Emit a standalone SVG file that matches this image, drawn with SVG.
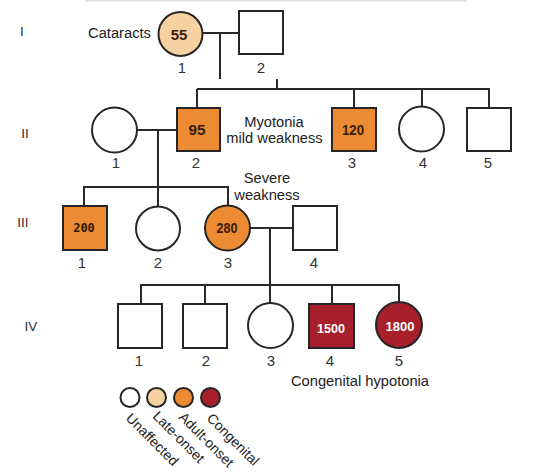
<svg xmlns="http://www.w3.org/2000/svg" width="544" height="475" viewBox="0 0 544 475">
<style>
.shape{stroke:#262626;stroke-width:2}
.un{fill:#ffffff}
.late{fill:#f6d2a2}
.adult{fill:#ec8b33}
.cong{fill:#a61f2b}
.lbl{font-family:"Liberation Sans",Arial,sans-serif;font-size:14.7px;fill:#222;text-anchor:middle}
.num{font-family:"Liberation Sans",Arial,sans-serif;font-size:15px;fill:#333;text-anchor:middle}
.gen{font-family:"Liberation Sans",Arial,sans-serif;font-size:13.5px;fill:#333;text-anchor:middle}
.val{font-family:"Liberation Sans",Arial,sans-serif;font-size:15px;font-weight:bold;fill:#3a1d08;text-anchor:middle}
.valw{font-family:"Liberation Sans",Arial,sans-serif;font-size:13.5px;font-weight:bold;fill:#ffffff;text-anchor:middle}
.leg{font-family:"Liberation Sans",Arial,sans-serif;font-size:14px;fill:#222}
#connectors line{stroke:#2a2a2a;stroke-width:2}
</style>
<rect width="544" height="475" fill="#ffffff"/>
<line x1="85" y1="0.8" x2="467" y2="0.8" stroke="#e2e2e2" stroke-width="1.5"/>

<g id="generation-labels">
<text class="gen" x="22" y="36">I</text>
<text class="gen" x="25" y="138">II</text>
<text class="gen" x="23" y="227">III</text>
<text class="gen" x="31" y="331">IV</text>
</g>

<g id="connectors">
<line x1="201" y1="33" x2="239" y2="33"/>
<line x1="220" y1="33" x2="220" y2="79"/>
<line x1="277" y1="79" x2="277" y2="89"/>
<line x1="197" y1="89" x2="490" y2="89"/>
<line x1="197" y1="89" x2="197" y2="108"/>
<line x1="354" y1="89" x2="354" y2="108"/>
<line x1="422" y1="89" x2="422" y2="107"/>
<line x1="489" y1="89" x2="489" y2="108"/>
<line x1="137" y1="130" x2="177" y2="130"/>
<line x1="158" y1="130" x2="158" y2="206"/>
<line x1="83" y1="187" x2="229" y2="187"/>
<line x1="84" y1="187" x2="84" y2="206"/>
<line x1="228" y1="187" x2="228" y2="206"/>
<line x1="250" y1="228" x2="293" y2="228"/>
<line x1="270" y1="228" x2="270" y2="303"/>
<line x1="140" y1="285" x2="400" y2="285"/>
<line x1="141" y1="285" x2="141" y2="304"/>
<line x1="205" y1="285" x2="205" y2="304"/>
<line x1="332" y1="285" x2="332" y2="304"/>
<line x1="399" y1="285" x2="399" y2="303"/>
</g>

<g id="I-1">
<circle class="shape late" cx="180.5" cy="34" r="22"/>
<text class="val" x="179" y="40">55</text>
<text class="num" x="182" y="73">1</text>
<text class="lbl" x="119.5" y="38">Cataracts</text>
</g>
<g id="I-2">
<rect class="shape un" x="239" y="11" width="44" height="43"/>
<text class="num" x="261" y="73">2</text>
</g>

<g id="II-1">
<circle class="shape un" cx="114.5" cy="130" r="22.5"/>
<text class="num" x="116" y="168">1</text>
</g>
<g id="II-2">
<rect class="shape adult" x="177" y="108" width="43" height="43"/>
<text class="val" x="197" y="135" textLength="17" lengthAdjust="spacingAndGlyphs">95</text>
<text class="num" x="196" y="168">2</text>
</g>
<g id="II-label">
<text class="lbl" x="274" y="127">Myotonia</text>
<text class="lbl" x="274.5" y="143">mild weakness</text>
</g>
<g id="II-3">
<rect class="shape adult" x="332" y="108" width="44" height="43"/>
<text class="val" x="353" y="135" textLength="22" lengthAdjust="spacingAndGlyphs">120</text>
<text class="num" x="352" y="168">3</text>
</g>
<g id="II-4">
<circle class="shape un" cx="421.5" cy="129" r="22.5"/>
<text class="num" x="423" y="168">4</text>
</g>
<g id="II-5">
<rect class="shape un" x="467" y="108" width="44" height="43"/>
<text class="num" x="488" y="168">5</text>
</g>

<g id="III-1">
<rect class="shape adult" x="63" y="206" width="44" height="44"/>
<text x="84" y="232" font-family="'DejaVu Sans Mono',monospace" font-size="12" font-weight="bold" fill="#2e1600" text-anchor="middle">200</text>
<text class="num" x="82" y="268">1</text>
</g>
<g id="III-2">
<circle class="shape un" cx="158" cy="228.5" r="22"/>
<text class="num" x="158" y="268">2</text>
</g>
<g id="III-3">
<circle class="shape adult" cx="227.5" cy="228" r="22.5"/>
<text class="val" x="227" y="233" textLength="21" lengthAdjust="spacingAndGlyphs">280</text>
<text class="num" x="228" y="268">3</text>
<text class="lbl" x="267" y="183">Severe</text>
<text class="lbl" x="267" y="199.5">weakness</text>
</g>
<g id="III-4">
<rect class="shape un" x="293" y="206" width="44" height="44"/>
<text class="num" x="314" y="268">4</text>
</g>

<g id="IV-1">
<rect class="shape un" x="118" y="304" width="44" height="44"/>
<text class="num" x="139" y="366">1</text>
</g>
<g id="IV-2">
<rect class="shape un" x="183" y="304" width="44" height="44"/>
<text class="num" x="206" y="366">2</text>
</g>
<g id="IV-3">
<circle class="shape un" cx="270.5" cy="325.5" r="22.5"/>
<text class="num" x="271" y="366">3</text>
</g>
<g id="IV-4">
<rect class="shape cong" x="309" y="304" width="45" height="44"/>
<text class="valw" x="331" y="333" textLength="28" lengthAdjust="spacingAndGlyphs">1500</text>
<text class="num" x="330" y="366">4</text>
</g>
<g id="IV-5">
<circle class="shape cong" cx="399" cy="325" r="23"/>
<text class="valw" x="400" y="331" textLength="29" lengthAdjust="spacingAndGlyphs">1800</text>
<text class="num" x="399" y="366">5</text>
<text class="lbl" x="360" y="386">Congenital hypotonia</text>
</g>

<g id="legend">
<circle class="shape un" cx="130" cy="397.5" r="9.5"/>
<circle class="shape late" cx="156.5" cy="397.5" r="9.5"/>
<circle class="shape adult" cx="183.5" cy="397.5" r="9.5"/>
<circle class="shape cong" cx="210.5" cy="397.5" r="9.5"/>
<text class="leg" transform="translate(125,419) rotate(45)">Unaffected</text>
<text class="leg" transform="translate(152,417) rotate(45)">Late-onset</text>
<text class="leg" transform="translate(178,418) rotate(45)">Adult-onset</text>
<text class="leg" transform="translate(206,419) rotate(45)">Congenital</text>
</g>
</svg>
